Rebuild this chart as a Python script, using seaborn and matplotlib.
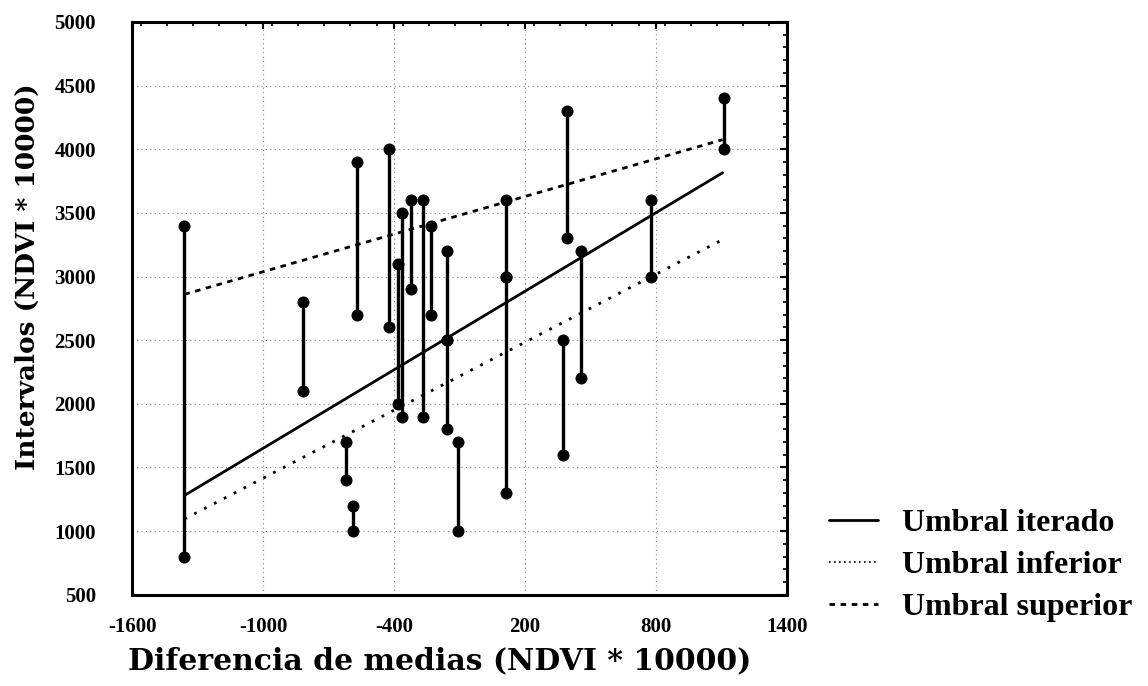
import numpy as np
import pandas as pd
import matplotlib
matplotlib.use("Agg")
import matplotlib.pyplot as plt
import seaborn as sns
from matplotlib.ticker import MultipleLocator
from matplotlib.lines import Line2D

# --- datos ---
# cada segmento: diferencia de medias, extremo superior, extremo inferior
seg_x   = [-1360, -815, -620, -590, -570, -425, -380, -365, -320, -265,
           -230, -158, -158, -108, 115, 115, 373, 391, 455, 775, 1110]
seg_top = [3400, 2800, 1700, 1200, 3900, 4000, 3100, 3500, 3600, 3600,
           3400, 3200, 2500, 1700, 3600, 3000, 2500, 4300, 3200, 3600, 4400]
seg_bot = [800, 2100, 1400, 1000, 2700, 2600, 2000, 1900, 2900, 1900,
           2700, 2500, 1800, 1000, 3000, 1300, 1600, 3300, 2200, 3000, 4000]

# rectas de umbral (extremos)
linea_x         = [-1360, 1105]
umbral_iterado  = [1280, 3815]
umbral_inferior = [1095, 3290]
umbral_superior = [2860, 4075]

x_ticks = [-1600, -1000, -400, 200, 800, 1400]
y_ticks = [500, 1000, 1500, 2000, 2500, 3000, 3500, 4000, 4500, 5000]

sns.set_style("white")
plt.rcParams['font.family'] = ['Liberation Serif', 'DejaVu Serif']
plt.rcParams.update({'axes.unicode_minus': False, 'text.color': 'black',
                     'axes.labelcolor': 'black', 'xtick.color': 'black',
                     'ytick.color': 'black'})

fig = plt.figure(figsize=(11.48, 6.86), dpi=100)
ax = fig.add_axes([0.115, 0.133, 0.5705, 0.835])

# segmentos verticales y puntos extremos
ax.vlines(seg_x, seg_bot, seg_top, color='black', linewidth=2.4, zorder=3)
puntos = pd.DataFrame({'x': seg_x + seg_x, 'y': seg_top + seg_bot})
sns.scatterplot(data=puntos, x='x', y='y', ax=ax, color='black', s=75,
                edgecolor='black', linewidth=0, zorder=4, legend=False)

# rectas
rectas = pd.DataFrame({'x': linea_x * 3,
                       'y': umbral_iterado + umbral_inferior + umbral_superior,
                       'serie': ['Umbral iterado'] * 2 + ['Umbral inferior'] * 2 + ['Umbral superior'] * 2})
estilos = {'Umbral iterado': '',
           'Umbral inferior': (1, 3),
           'Umbral superior': (2, 2)}
sns.lineplot(data=rectas, x='x', y='y', style='serie', dashes=estilos,
             color='black', linewidth=2, ax=ax, legend=False, zorder=2)

ax.set_xlim(-1600, 1400)
ax.set_ylim(500, 5000)
ax.set_xticks(x_ticks)
ax.set_yticks(y_ticks)
ax.xaxis.set_minor_locator(MultipleLocator(120))
ax.yaxis.set_minor_locator(MultipleLocator(100))
ax.tick_params(which='both', direction='in', top=True, right=True, color='black')
ax.tick_params(which='major', length=5, width=1.5, labelsize=15)
ax.tick_params(which='minor', length=3, width=1.2)
ax.tick_params(axis='x', which='major', pad=16)
ax.tick_params(axis='y', which='major', pad=26)
for lbl in ax.get_xticklabels() + ax.get_yticklabels():
    lbl.set_fontweight('bold')

ax.grid(True, which='major', color='#888888', linestyle=(0, (1, 3)), linewidth=0.8)
for sp in ax.spines.values():
    sp.set_visible(True)
    sp.set_color('black')
    sp.set_linewidth(2.2)

ax.set_xlabel('Diferencia de medias (NDVI * 10000)', fontsize=21.5, fontweight='bold',
              family=['DejaVu Serif'])
ax.xaxis.set_label_coords(0.47, -0.09)
ax.set_ylabel('Intervalos (NDVI * 10000)', fontsize=19, fontweight='bold',
              family=['DejaVu Serif'])
ax.yaxis.set_label_coords(-0.14, 0.555)

# leyenda a la derecha
handles = [Line2D([], [], color='black', lw=2, linestyle='-'),
           Line2D([], [], color='black', lw=1.2, linestyle=(0, (1, 2))),
           Line2D([], [], color='black', lw=2, linestyle=(0, (2, 2)))]
fig.legend(handles, ['Umbral iterado', 'Umbral inferior', 'Umbral superior'],
           loc='center left', bbox_to_anchor=(0.722, 0.176), frameon=False,
           prop={'family': 'Liberation Serif', 'weight': 'bold', 'size': 23},
           handlelength=1.55, handletextpad=0.75, labelspacing=0.39, borderpad=0,
           borderaxespad=0)

fig.savefig('out.png', dpi=100)
